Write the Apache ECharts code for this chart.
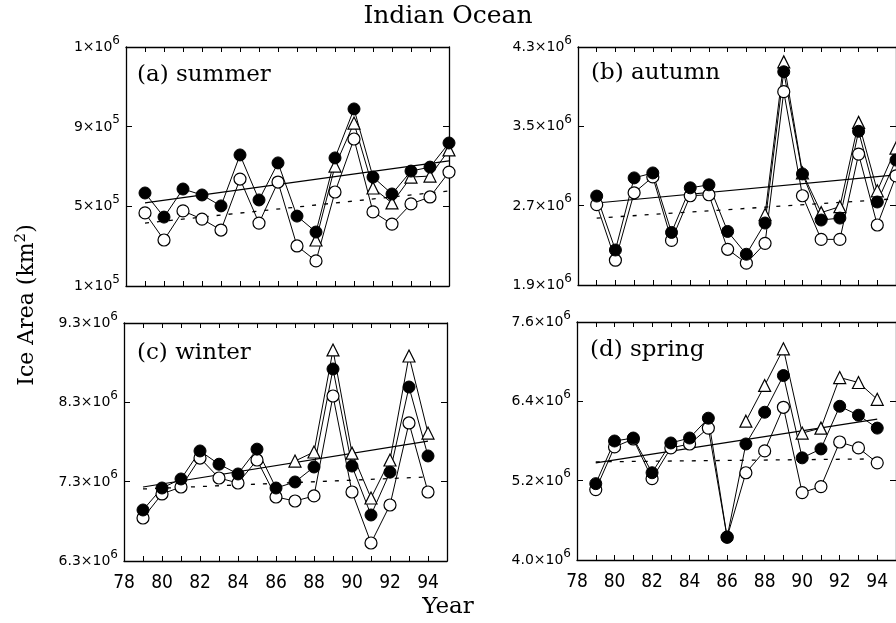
<!DOCTYPE html>
<html>
<head>
<meta charset="utf-8">
<script src="https://cdn.jsdelivr.net/npm/echarts@6/dist/echarts.min.js"></script>
<style>
  html, body { margin: 0; padding: 0; background: #fff; }
  #chart { width: 896px; height: 623px; }
</style>
</head>
<body>
<div id="chart"></div>
<script>
// years of each record
const years = [79, 80, 81, 82, 83, 84, 85, 86, 87, 88, 89, 90, 91, 92, 93, 94];
const yearsTo95 = years.concat([95]);

// (a) summer
const summerFilled = [567e3, 446e3, 587e3, 557e3, 502e3, 758e3, 532e3, 718e3, 451e3, 371e3, 743e3, 989e3, 647e3, 562e3, 677e3, 697e3, 818e3];
const summerOpen = [467e3, 331e3, 477e3, 436e3, 381e3, 637e3, 416e3, 622e3, 301e3, 226e3, 572e3, 838e3, 472e3, 411e3, 512e3, 547e3, 672e3];
const summerTriYears = [88, 89, 90, 91, 92, 93, 94, 95];
const summerTri = [331e3, 702e3, 918e3, 592e3, 517e3, 647e3, 652e3, 783e3];
const summerTrend = [517e3, 728e3];
const summerTrendDot = [416e3, 577e3];

// (b) autumn
const autumnFilled = [2.797e6, 2.253e6, 2.98e6, 3.03e6, 2.43e6, 2.88e6, 2.91e6, 2.44e6, 2.21e6, 2.525e6, 4.05e6, 3.02e6, 2.555e6, 2.575e6, 3.45e6, 2.737e6, 3.16e6];
const autumnOpen = [2.71e6, 2.15e6, 2.83e6, 2.99e6, 2.35e6, 2.8e6, 2.81e6, 2.26e6, 2.12e6, 2.32e6, 3.85e6, 2.8e6, 2.36e6, 2.36e6, 3.22e6, 2.505e6, 3.0e6];
const autumnTriYears = [88, 89, 90, 91, 92, 93, 94, 95];
const autumnTri = [2.61e6, 4.15e6, 3.03e6, 2.63e6, 2.69e6, 3.54e6, 2.85e6, 3.28e6];
const autumnTrend = [2.727e6, 3.01e6];
const autumnTrendDot = [2.575e6, 2.77e6];

// (c) winter
const winterFilled = [6.943e6, 7.22e6, 7.334e6, 7.687e6, 7.52e6, 7.397e6, 7.71e6, 7.22e6, 7.296e6, 7.485e6, 8.72e6, 7.497e6, 6.88e6, 7.42e6, 8.493e6, 7.624e6];
const winterOpen = [6.842e6, 7.145e6, 7.233e6, 7.598e6, 7.346e6, 7.283e6, 7.573e6, 7.107e6, 7.056e6, 7.12e6, 8.38e6, 7.17e6, 6.527e6, 7.006e6, 8.04e6, 7.17e6];
const winterTriYears = [87, 88, 89, 90, 91, 92, 93, 94];
const winterTri = [7.56e6, 7.674e6, 8.96e6, 7.66e6, 7.094e6, 7.573e6, 8.884e6, 7.913e6];
const winterTrend = [7.233e6, 7.81e6];
const winterTrendDot = [7.208e6, 7.359e6];

// (d) spring
const springFilled = [5.155e6, 5.8e6, 5.845e6, 5.32e6, 5.77e6, 5.845e6, 6.145e6, 4.345e6, 5.755e6, 6.235e6, 6.79e6, 5.545e6, 5.68e6, 6.325e6, 6.19e6, 5.995e6];
const springOpen = [5.065e6, 5.71e6, 5.83e6, 5.23e6, 5.695e6, 5.755e6, 5.995e6, 4.345e6, 5.32e6, 5.65e6, 6.31e6, 5.02e6, 5.11e6, 5.785e6, 5.695e6, 5.47e6];
const springTriYears = [87, 88, 89, 90, 91, 92, 93, 94];
const springTri = [6.1e6, 6.64e6, 7.195e6, 5.92e6, 5.995e6, 6.76e6, 6.685e6, 6.43e6];
const springTrend = [5.47e6, 6.13e6];
const springTrendDot = [5.485e6, 5.53e6];

// y tick values and labels (mantissa, exponent)
const summerTicks = [1e5, 5e5, 9e5, 1.3e6];
const summerLabels = [['1', 5], ['5', 5], ['9', 5], ['1', 6]];
const autumnTicks = [1.9e6, 2.7e6, 3.5e6, 4.3e6];
const autumnLabels = [['1.9', 6], ['2.7', 6], ['3.5', 6], ['4.3', 6]];
const winterTicks = [6.3e6, 7.3e6, 8.3e6, 9.3e6];
const winterLabels = [['6.3', 6], ['7.3', 6], ['8.3', 6], ['9.3', 6]];
const springTicks = [4.0e6, 5.2e6, 6.4e6, 7.6e6];
const springLabels = [['4.0', 6], ['5.2', 6], ['6.4', 6], ['7.6', 6]];

const yearLabels = [78, 80, 82, 84, 86, 88, 90, 92, 94];

const panels = [
    {name: '(a) summer', grid: {left: 126, top: 47, width: 323, height: 239}, ticks: summerTicks, labels: summerLabels,
     xs: yearsTo95, filled: summerFilled, open: summerOpen, triX: summerTriYears, tri: summerTri,
     trendX: [79, 95], trend: summerTrend, trendDot: summerTrendDot, showYears: false, label: [137, 78]},
    {name: '(b) autumn', grid: {left: 578, top: 47, width: 323, height: 238}, ticks: autumnTicks, labels: autumnLabels,
     xs: yearsTo95, filled: autumnFilled, open: autumnOpen, triX: autumnTriYears, tri: autumnTri,
     trendX: [79, 95], trend: autumnTrend, trendDot: autumnTrendDot, showYears: false, label: [591, 76]},
    {name: '(c) winter', grid: {left: 124, top: 323, width: 323, height: 238}, ticks: winterTicks, labels: winterLabels,
     xs: years, filled: winterFilled, open: winterOpen, triX: winterTriYears, tri: winterTri,
     trendX: [79, 94], trend: winterTrend, trendDot: winterTrendDot, showYears: true, label: [137, 356]},
    {name: '(d) spring', grid: {left: 577, top: 322, width: 323, height: 238}, ticks: springTicks, labels: springLabels,
     xs: years, filled: springFilled, open: springOpen, triX: springTriYears, tri: springTri,
     trendX: [79, 94], trend: springTrend, trendDot: springTrendDot, showYears: true, label: [590, 353]}
];

const pair = (xs, ys) => xs.map((x, k) => [x, ys[k]]);
const yearTicks = [];
for (let y = 78; y <= 95; y++) yearTicks.push(y);

const grids = [], xAxes = [], yAxes = [], series = [], texts = [];
const line = {color: '#000', width: 1.3};
const sansRich = {
    b: {fontFamily: 'DejaVu Sans', fontSize: 14, color: '#000', verticalAlign: 'bottom'},
    s: {fontFamily: 'DejaVu Sans', fontSize: 12, color: '#000', verticalAlign: 'bottom', padding: [0, 0, 8, 0]}
};

panels.forEach((p, i) => {
    grids.push(Object.assign({show: false}, p.grid));
    // bottom and top
    [0, 1].forEach(k => {
        xAxes.push({
            type: 'value', gridIndex: i, min: 78, max: 95, position: k ? 'top' : 'bottom',
            axisLine: {show: true, onZero: false, lineStyle: line},
            axisTick: {show: true, inside: true, length: 5, customValues: yearTicks, lineStyle: {color: '#000', width: 1}},
            axisLabel: {show: !k && p.showYears, customValues: yearLabels, margin: 13,
                fontFamily: 'Liberation Sans Narrow, DejaVu Sans Condensed, Liberation Sans', fontSize: 19, color: '#000'},
            splitLine: {show: false}
        });
    });
    // left and right
    [0, 1].forEach(k => {
        yAxes.push({
            type: 'value', gridIndex: i, min: p.ticks[0], max: p.ticks[3], position: k ? 'right' : 'left',
            axisLine: {show: true, onZero: false, lineStyle: line},
            axisTick: {show: true, inside: true, length: 6, customValues: p.ticks, lineStyle: {color: '#000', width: 1}},
            axisLabel: {show: !k, customValues: p.ticks, margin: 6, padding: [0, 0, 5, 0],
                formatter: v => {
                    const l = p.labels[p.ticks.indexOf(v)];
                    return l ? '{b|' + l[0] + '×10}{s|' + l[1] + '}' : '';
                },
                rich: sansRich},
            splitLine: {show: false}
        });
    });
    const ax = {xAxisIndex: 2 * i, yAxisIndex: 2 * i};
    series.push(Object.assign({
        type: 'line', data: pair(p.trendX, p.trend), symbol: 'none', silent: true,
        lineStyle: {color: '#000', width: 1.2}
    }, ax));
    series.push(Object.assign({
        type: 'line', data: pair(p.trendX, p.trendDot), symbol: 'none', silent: true,
        lineStyle: {color: '#000', width: 1.3, type: [4, 8]}
    }, ax));
    series.push(Object.assign({
        type: 'line', data: pair(p.triX, p.tri), symbol: 'triangle', symbolSize: 12,
        lineStyle: {color: '#000', width: 1}, itemStyle: {color: '#fff', borderColor: '#000', borderWidth: 1.2}
    }, ax));
    series.push(Object.assign({
        type: 'line', data: pair(p.xs, p.open), symbol: 'circle', symbolSize: 12,
        lineStyle: {color: '#000', width: 1}, itemStyle: {color: '#fff', borderColor: '#000', borderWidth: 1.2}
    }, ax));
    series.push(Object.assign({
        type: 'line', data: pair(p.xs, p.filled), symbol: 'circle', symbolSize: 12,
        lineStyle: {color: '#000', width: 1}, itemStyle: {color: '#000', borderColor: '#000', borderWidth: 1}
    }, ax));
    texts.push({
        type: 'text', left: p.label[0], top: p.label[1] - 14, z: 10,
        style: {text: p.name, font: '23px "DejaVu Serif"', fill: '#000'}
    });
});

texts.push({type: 'text', left: 'center', top: 4, style: {text: 'Indian Ocean', font: '25px "DejaVu Serif"', fill: '#000'}});
texts.push({type: 'text', left: 'center', top: 596, style: {text: 'Year', font: '23px "DejaVu Serif"', fill: '#000'}});
texts.push({type: 'text', x: 26, y: 305, rotation: Math.PI / 2,
    style: {text: '{n|Ice Area (km}{s|2}{n|)}', align: 'center', verticalAlign: 'middle',
        rich: {
            n: {fontFamily: 'DejaVu Serif', fontSize: 22, color: '#000', verticalAlign: 'bottom'},
            s: {fontFamily: 'DejaVu Serif', fontSize: 15, color: '#000', verticalAlign: 'bottom', padding: [0, 0, 10, 0]}
        }}});

var myChart = echarts.init(document.getElementById('chart'));
myChart.setOption({
    animation: false,
    grid: grids,
    xAxis: xAxes,
    yAxis: yAxes,
    series: series,
    graphic: texts
});
</script>
</body>
</html>
